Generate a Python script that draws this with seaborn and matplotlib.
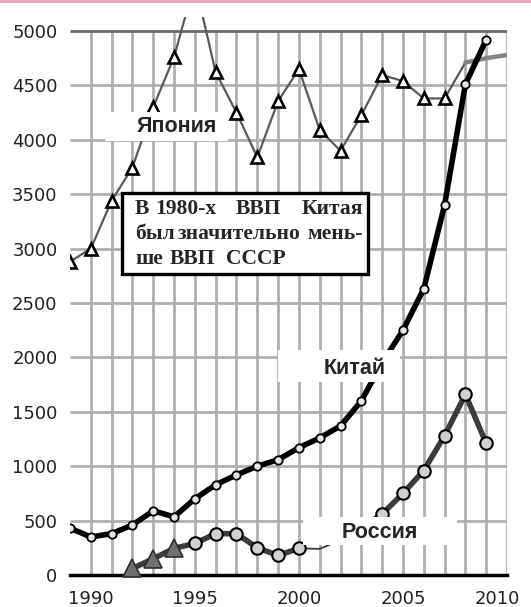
import matplotlib
matplotlib.use("Agg")
import matplotlib.pyplot as plt
from matplotlib.patches import Rectangle
from matplotlib.transforms import ScaledTranslation
import pandas as pd
import seaborn as sns

# GDP values (billion $)
japan_years = list(range(1989, 2009))
japan_gdp = [2880, 3000, 3440, 3745, 4300, 4760, 5450, 4620, 4250, 3840,
             4355, 4650, 4090, 3900, 4225, 4595, 4540, 4380, 4380, 4710]
japan_tail_years = [2008, 2009, 2010]
japan_tail_gdp = [4710, 4750, 4780]

china_years = list(range(1989, 2010))
china_gdp = [430, 350, 380, 460, 590, 535, 700, 830, 920, 1000, 1060,
             1170, 1260, 1370, 1600, 1950, 2250, 2630, 3400, 4510, 4920]

russia_years = list(range(1992, 2010))
russia_gdp = [60, 150, 245, 290, 380, 380, 250, 180, 245, 240, 320, 430,
              560, 750, 960, 1280, 1660, 1210]

y_ticks = list(range(0, 5001, 500))
label_years = [1990, 1995, 2000, 2005, 2010]

japan = pd.DataFrame({"year": japan_years, "gdp": japan_gdp})
japan_tail = pd.DataFrame({"year": japan_tail_years, "gdp": japan_tail_gdp})
china = pd.DataFrame({"year": china_years, "gdp": china_gdp})
russia = pd.DataFrame({"year": russia_years, "gdp": russia_gdp})

sns.set_style("white")
plt.rcParams["font.family"] = ["DejaVu Sans"]

W, H = 531, 607
fig = plt.figure(figsize=(W / 100, H / 100), dpi=100)
ax = fig.add_axes([70 / W, 1 - 575 / H, 437 / W, 558 / H])


def px(x, y):
    # pixel position (from top-left) -> figure fraction
    return x / W, 1 - y / H


# grid
ax.vlines(range(1990, 2011), 0, 5000, color="#b0b0b0", lw=2, zorder=1)
ax.hlines(y_ticks[1:-1], 1989, 2010, color="#b0b0b0", lw=2, zorder=1)
ax.hlines(5000, 1989, 2010, color="#6a6a6a", lw=2, zorder=1)

# Japan
sns.lineplot(data=japan, x="year", y="gdp", ax=ax, color="#5a5a5a", lw=1.6,
             zorder=3)
sns.lineplot(data=japan_tail, x="year", y="gdp", ax=ax, color="#858585",
             lw=3.2, zorder=3)
ax.plot(japan["year"][:-1], japan["gdp"][:-1], ls="none", marker="^", ms=9,
        mfc="white", mec="black", mew=1.9, zorder=4)

# China
sns.lineplot(data=china, x="year", y="gdp", ax=ax, color="black", lw=4,
             zorder=5)
ax.plot(china["year"], china["gdp"], ls="none", marker="o", ms=6,
        mfc="#e6e6e6", mec="black", mew=1.3, zorder=6)

# Russia: thin line where the series is broken (2000-2003)
ru_a = russia[russia["year"] <= 2000]
ru_gap = russia[(russia["year"] >= 2000) & (russia["year"] <= 2003)]
ru_b = russia[russia["year"] >= 2003]
sns.lineplot(data=ru_a, x="year", y="gdp", ax=ax, color="#3c3c3c", lw=4,
             zorder=5)
sns.lineplot(data=ru_gap, x="year", y="gdp", ax=ax, color="#3c3c3c", lw=1.3,
             zorder=5)
sns.lineplot(data=ru_b, x="year", y="gdp", ax=ax, color="#3c3c3c", lw=4,
             zorder=5)
ru_pts = russia[(russia["year"] >= 1995) & ((russia["year"] <= 2000) | (russia["year"] >= 2004))]
ax.plot(ru_pts["year"], ru_pts["gdp"], ls="none", marker="o", ms=9,
        mfc="#d0d0d0", mec="black", mew=1.5, zorder=6)
ax.plot(russia["year"][:3], russia["gdp"][:3], ls="none", marker="^", ms=13,
        mfc="#707070", mec="#303030", mew=1.2, zorder=6, clip_on=False)

ax.set_xlim(1989, 2010)
ax.set_ylim(0, 5000 * 558 / 544)
ax.set_xticks(range(1990, 2011))
ax.set_xticklabels([str(y) if y in label_years else "" for y in range(1990, 2011)])
ax.set_yticks(y_ticks)
ax.set_yticklabels([str(v) for v in y_ticks])
ax.tick_params(axis="x", length=7, width=2, color="#222222", labelsize=13,
               labelcolor="#222222", pad=4)
ax.tick_params(axis="y", length=0, labelsize=13, labelcolor="#222222", pad=9)
# last year label sits a bit inside the picture
last = ax.get_xticklabels()[-1]
last.set_transform(last.get_transform() + ScaledTranslation(-10 / 100, 0, fig.dpi_scale_trans))
ax.set_xlabel("")
ax.set_ylabel("")
for side in ["top", "right", "left"]:
    ax.spines[side].set_visible(False)
ax.spines["bottom"].set_linewidth(2.5)
ax.spines["bottom"].set_color("black")

# series labels on white patches
labels = [("Япония", 177, 127, (105, 112, 228, 141)),
          ("Китай", 355, 368, (278, 350, 400, 382)),
          ("Россия", 380, 532, (303, 517, 457, 545))]
for text, cx, cy, (x0, y0, x1, y1) in labels:
    fig.patches.append(Rectangle(px(x0, y1), (x1 - x0) / W, (y1 - y0) / H,
                                 transform=fig.transFigure, facecolor="white",
                                 edgecolor="none", zorder=2))
    fig.text(*px(cx, cy), text, ha="center", va="center", fontsize=15.5,
             fontweight="bold", family=["Liberation Sans"], zorder=3)

# note box
fig.patches.append(Rectangle(px(122, 274), 246 / W, 81 / H,
                             transform=fig.transFigure, facecolor="white",
                             edgecolor="black", lw=2.4, zorder=2))
serif = dict(fontsize=15.5, fontweight="bold", family=["Liberation Serif"],
             va="baseline", zorder=3)
words = [("В", 135, 214, "left"), ("1980-х", 155, 214, "left"),
         ("ВВП", 236, 214, "left"), ("Китая", 363, 214, "right"),
         ("был", 135, 239, "left"), ("значительно", 178, 239, "left"),
         ("мень-", 363, 239, "right"),
         ("ше", 135, 264, "left"), ("ВВП", 170, 264, "left"),
         ("СССР", 226, 264, "left")]
for w, x, y, ha in words:
    fig.text(*px(x, y), w, ha=ha, **serif)

# pink strip along the top
fig.patches.append(Rectangle(px(0, 3), 1, 3 / H, transform=fig.transFigure,
                             facecolor="#f4a6bb", edgecolor="none", zorder=2))

fig.savefig("out.png", dpi=100)
